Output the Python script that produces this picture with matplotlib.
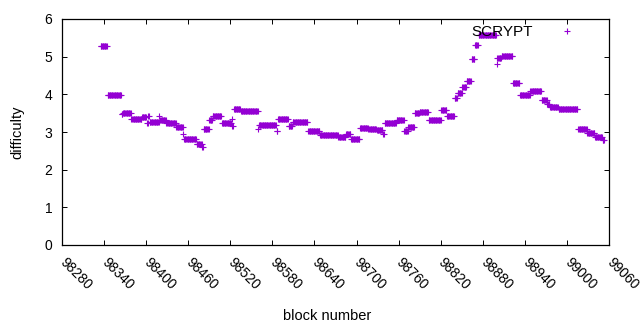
import numpy as np
import matplotlib
matplotlib.use("Agg")
import matplotlib.pyplot as plt

plt.rcParams['font.family'] = ['Liberation Sans', 'DejaVu Sans']

# difficulty runs: first block of each run and its difficulty
run_start = [98335, 98345, 98365, 98367, 98379, 98394, 98401, 98403, 98405, 98419,
             98420, 98429, 98443, 98453, 98454, 98472, 98480, 98482, 98490, 98495,
             98508, 98522, 98523, 98525, 98535, 98560, 98561, 98586, 98588, 98603,
             98609, 98631, 98648, 98674, 98685, 98692, 98705, 98717, 98729, 98738,
             98740, 98757, 98768, 98774, 98783, 98790, 98803, 98821, 98829, 98840,
             98844, 98851, 98857, 98864, 98869, 98874, 98900, 98901, 98907, 98923,
             98933, 98948, 98964, 98972, 98976, 98988, 99016, 99017, 99029, 99040,
             99051]
run_diff = [5.27, 3.97, 3.48, 3.50, 3.34, 3.40, 3.23, 3.42, 3.26, 3.42,
            3.33, 3.23, 3.13, 2.95, 2.81, 2.67, 2.60, 3.08, 3.33, 3.42,
            3.24, 3.34, 3.15, 3.60, 3.56, 3.09, 3.19, 3.03, 3.34, 3.16,
            3.26, 3.03, 2.91, 2.87, 2.95, 2.82, 3.11, 3.08, 3.05, 2.95,
            3.25, 3.32, 3.03, 3.12, 3.50, 3.54, 3.31, 3.58, 3.42, 3.89,
            4.04, 4.19, 4.36, 4.94, 5.31, 5.57, 4.80, 4.97, 5.01, 4.29,
            3.99, 4.08, 3.85, 3.74, 3.67, 3.60, 3.08, 3.07, 2.97, 2.87,
            2.78]
last_block = 99053

x_ticks = list(range(98280, 99061, 60))
y_ticks = [0, 1, 2, 3, 4, 5, 6]

# one point per block
blocks = []
diffs = []
for i in range(len(run_start)):
    stop = run_start[i + 1] if i + 1 < len(run_start) else last_block + 1
    for b in range(run_start[i], stop):
        blocks.append(b)
        diffs.append(run_diff[i])

fig = plt.figure(figsize=(6.4, 3.3), dpi=100)
ax = fig.add_axes([62 / 640, 85 / 330, 547 / 640, 226 / 330])

ax.plot(blocks, diffs, linestyle='none', marker='+', markersize=4.8,
        markeredgewidth=0.8, color='#9400d3', label='SCRYPT')

ax.set_xlim(98280, 99060)
ax.set_ylim(0, 6)
ax.set_xticks(x_ticks)
ax.set_yticks(y_ticks)
ax.set_xticklabels([str(t) for t in x_ticks], rotation=-45, ha='left',
                   va='center', rotation_mode='anchor', fontsize=10)
ax.set_yticklabels([str(t) for t in y_ticks], fontsize=10)
ax.tick_params(direction='in', length=3.5, width=0.7, top=True, right=True)
ax.tick_params(axis='x', pad=11)
ax.tick_params(axis='y', pad=7)
for s in ax.spines.values():
    s.set_linewidth(0.9)

ax.set_xlabel('block number', fontsize=10.5, va='center')
ax.xaxis.set_label_coords(0.485, -0.314)
ax.set_ylabel('difficulty', fontsize=10.5, va='center')
ax.yaxis.set_label_coords(-0.081, 0.5)

ax.legend(loc='upper right', bbox_to_anchor=(0.946, 0.974), frameon=False,
          markerfirst=False, handlelength=1.6, handletextpad=1.44,
          borderaxespad=0, borderpad=0, fontsize=11)

fig.savefig('out.png', dpi=100)
